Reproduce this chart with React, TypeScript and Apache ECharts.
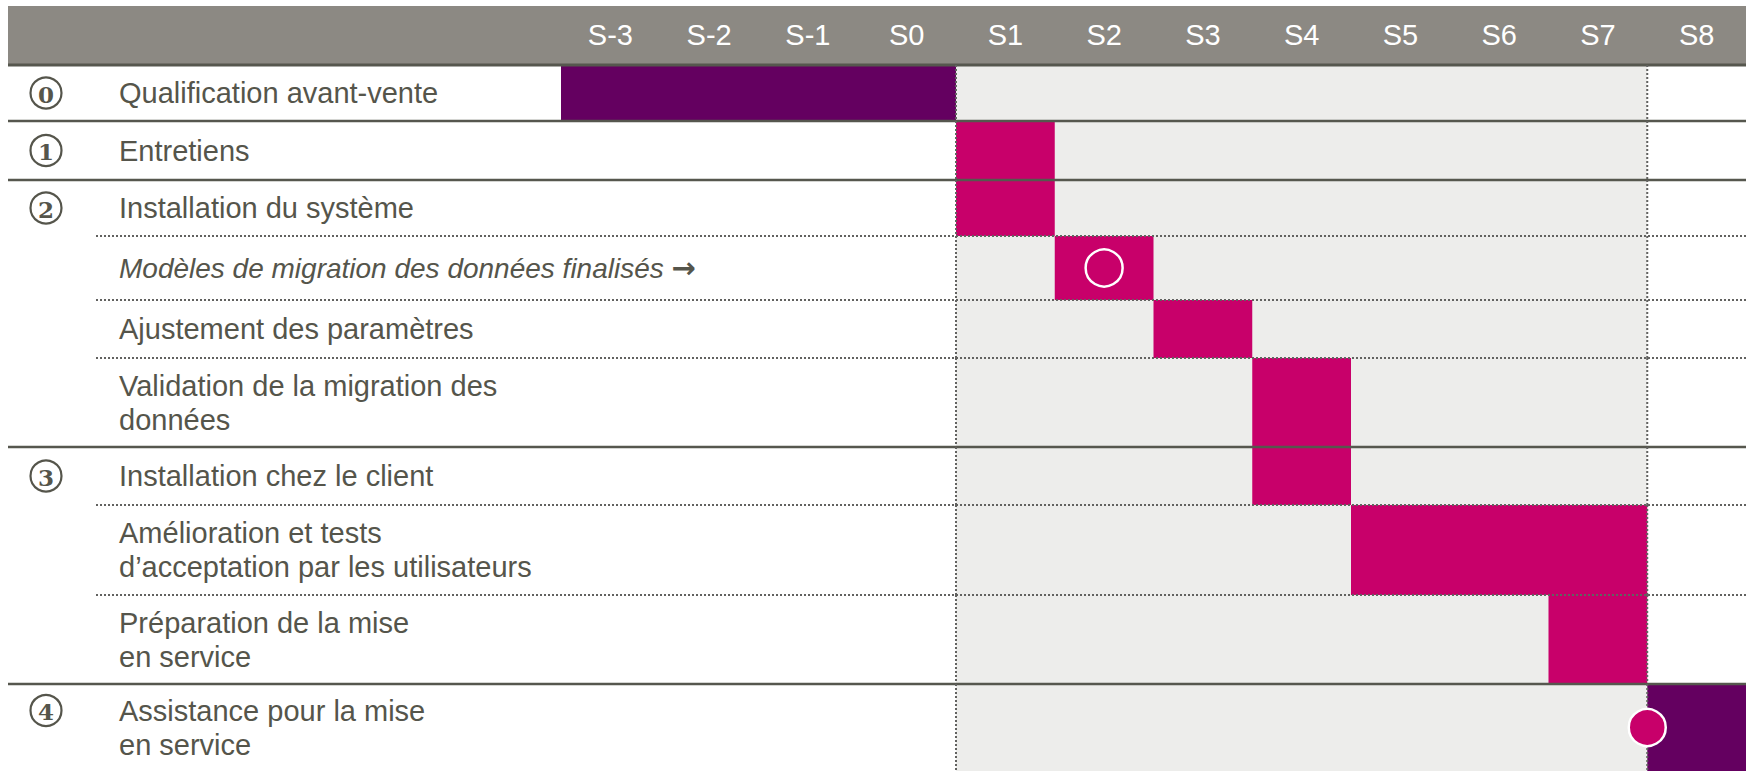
import React, { useEffect, useRef } from "react";
import * as echarts from "echarts";

// ---------- data ----------
const weeks = ["S-3", "S-2", "S-1", "S0", "S1", "S2", "S3", "S4", "S5", "S6", "S7", "S8"];
const phaseNumbers = ["0", "1", "2", "", "", "", "3", "", "", "4"];
const taskLabels = [
  "Qualification avant-vente",
  "Entretiens",
  "Installation du système",
  "Modèles de migration des données finalisés →",
  "Ajustement des paramètres",
  "Validation de la migration des\ndonnées",
  "Installation chez le client",
  "Amélioration et tests\nd’acceptation par les utilisateurs",
  "Préparation de la mise\nen service",
  "Assistance pour la mise\nen service",
];
const taskItalic = [false, false, false, true, false, false, false, false, false, false];
// week index (0 = S-3), end exclusive
const taskStart = [0, 4, 4, 5, 6, 7, 7, 8, 10, 11];
const taskEnd = [4, 5, 5, 6, 7, 8, 8, 11, 11, 12];
const taskKind = ["presale", "delivery", "delivery", "delivery", "delivery", "delivery", "delivery", "delivery", "delivery", "support"];
const projectWindow = [4, 11]; // S1 .. S7
const milestoneRow = [3, 9];
const milestoneWeek = [5.5, 11];
const milestoneKind = ["hollow", "filled"];

// ---------- layout & style ----------
const ROW_HEIGHTS = [56, 59, 56, 64, 58, 89, 58, 90, 89, 87];
const GRID_LEFT = 561;
const GRID_TOP = 65;
const LABEL_X = 119;
const NUM_X = 46;
const SOLID_LEFT = 8;
const DOTTED_LEFT = 96;
const TEXT_COLOR = "#55554B";
const COLORS: Record<string, string> = { presale: "#640060", delivery: "#C8006A", support: "#640060" };
const WINDOW_FILL = "#EDEDEB";
const DOT_STYLE = { stroke: "#626260", lineWidth: 2, lineDash: [2, 2] };
const SOLID_COLOR = "#56574E";
const FONT = "Liberation Sans, Arial, sans-serif";
const FONT_SIZE = 29;
const LINE_HEIGHT = 34;

const rowTop: number[] = [];
{
  let acc = 0;
  for (const h of ROW_HEIGHTS) {
    rowTop.push(acc);
    acc += h;
  }
}
const totalHeight = ROW_HEIGHTS.reduce((a, b) => a + b, 0);

export default function App() {
  const ref = useRef<HTMLDivElement>(null);
  useEffect(() => {
    if (!ref.current) return;
    const chart = echarts.init(ref.current, undefined, { renderer: "svg" });

    const rowData = taskLabels.map((_, i) => [i, taskStart[i], taskEnd[i], rowTop[i], rowTop[i] + ROW_HEIGHTS[i]]);

    const option: any = {
      animation: false,
      grid: { left: GRID_LEFT, right: 0, top: GRID_TOP, bottom: 0 },
      graphic: {
        elements: [
          {
            type: "rect",
            z: -10,
            shape: { x: 8, y: 6, width: 1738, height: 59 },
            style: { fill: "#8C8983" },
          },
        ],
      },
      xAxis: [
        { type: "value", min: 0, max: weeks.length, show: false },
        {
          type: "category",
          data: weeks,
          position: "top",
          z: 10,
          axisLine: { show: false },
          axisTick: { show: false },
          splitLine: { show: false },
          axisLabel: { color: "#FFFFFF", fontSize: FONT_SIZE, fontFamily: FONT, margin: 16 },
        },
      ],
      yAxis: { type: "value", min: 0, max: totalHeight, inverse: true, show: false },
      series: [
        {
          type: "custom",
          xAxisIndex: 0,
          yAxisIndex: 0,
          z: 2,
          clip: false,
          encode: { x: [1, 2], y: [3, 4] },
          data: rowData,
          renderItem: (_params: any, api: any) => {
            const i = api.value(0);
            const s = api.value(1);
            const e = api.value(2);
            const [xs, yt] = api.coord([s, api.value(3)]);
            const [xe, yb] = api.coord([e, api.value(4)]);
            const wx0 = api.coord([projectWindow[0], 0])[0];
            const wx1 = api.coord([projectWindow[1], 0])[0];
            const right = api.coord([weeks.length, 0])[0];
            const yc = (yt + yb) / 2;
            const solid = phaseNumbers[i] !== "";
            const label = taskLabels[i];
            const nLines = label.split("\n").length;
            const italic = taskItalic[i];
            const textStyle: any = italic
              ? {
                  text: "{it|" + label.replace(" →", " ") + "}{ar|→}",
                  rich: {
                    it: { fontSize: 28, fontFamily: FONT, fontStyle: "italic", fill: TEXT_COLOR },
                    ar: { fontSize: 29, fontFamily: "DejaVu Sans, sans-serif", fontWeight: "bold", fill: TEXT_COLOR },
                  },
                }
              : { text: label, fontSize: FONT_SIZE, fontFamily: FONT, lineHeight: LINE_HEIGHT };
            const children: any[] = [
              { type: "rect", shape: { x: wx0, y: yt, width: wx1 - wx0, height: yb - yt }, style: { fill: WINDOW_FILL } },
              { type: "rect", shape: { x: xs, y: yt, width: xe - xs, height: yb - yt }, style: { fill: COLORS[taskKind[i]] } },
              {
                type: "line",
                shape: { x1: solid ? SOLID_LEFT : DOTTED_LEFT, y1: yt, x2: right, y2: yt },
                style: solid ? { stroke: SOLID_COLOR, lineWidth: i === 0 ? 3 : 2.5 } : DOT_STYLE,
              },
              ...projectWindow.map((w) => {
                const x = api.coord([w, 0])[0];
                return { type: "line", shape: { x1: x, y1: yt, x2: x, y2: yb }, style: DOT_STYLE };
              }),
              {
                type: "text",
                style: {
                  ...textStyle,
                  x: LABEL_X,
                  y: yc,
                  align: "left",
                  verticalAlign: "middle",
                  fill: TEXT_COLOR,
                },
              },
            ];
            if (solid) {
              const ny = yc - ((nLines - 1) * LINE_HEIGHT) / 2;
              children.push({
                type: "circle",
                shape: { cx: NUM_X, cy: ny, r: 15.5 },
                style: { fill: "none", stroke: TEXT_COLOR, lineWidth: 2.2 },
              });
              children.push({
                type: "text",
                style: {
                  text: phaseNumbers[i],
                  x: NUM_X,
                  y: ny + 1,
                  align: "center",
                  verticalAlign: "middle",
                  fill: TEXT_COLOR,
                  fontSize: 23,
                  fontWeight: "bold",
                  fontFamily: "DejaVu Serif, Liberation Serif, serif",
                },
              });
            }
            return { type: "group", children };
          },
        },
        {
          type: "scatter",
          xAxisIndex: 0,
          yAxisIndex: 0,
          z: 5,
          symbol: "circle",
          symbolSize: 37,
          data: milestoneRow.map((r, k) => ({
            value: [milestoneWeek[k], rowTop[r] + ROW_HEIGHTS[r] / 2],
            itemStyle:
              milestoneKind[k] === "hollow"
                ? { color: "rgba(0,0,0,0)", borderColor: "#FFFFFF", borderWidth: 2.5, opacity: 1 }
                : { color: COLORS.delivery, borderColor: "#FFFFFF", borderWidth: 2.5, opacity: 1 },
          })),
        },
      ],
    };
    chart.setOption(option);
    return () => chart.dispose();
  }, []);

  return (
    <div
      ref={ref}
      style={{ position: "absolute", left: 0, top: 0, width: 1746, height: 771, background: "#FFFFFF" }}
    />
  );
}
